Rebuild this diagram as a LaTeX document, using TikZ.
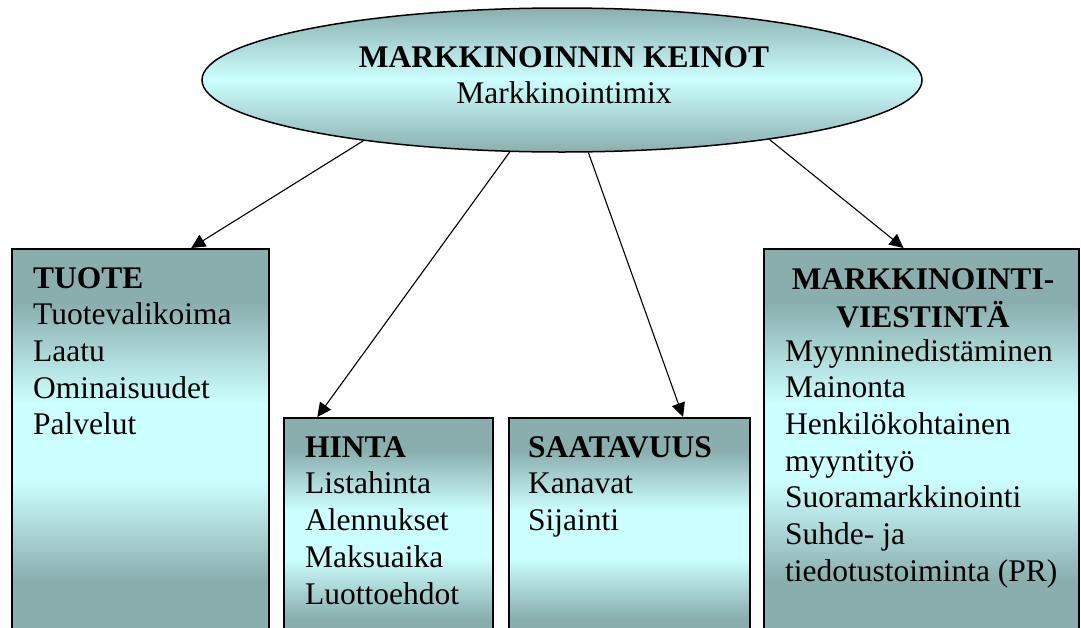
\documentclass[tikz,border=0pt]{standalone}
\usepackage{fontspec}
\setmainfont{Liberation Serif}
\usetikzlibrary{shapes.geometric,arrows.meta,calc}
\definecolor{dk}{RGB}{138,174,174}
\definecolor{lt}{RGB}{204,255,255}
\pgfdeclareverticalshading{boxshade}{100bp}{color(0bp)=(dk); color(25bp)=(dk); color(32bp)=(dk); color(45bp)=(lt); color(55bp)=(lt); color(68bp)=(dk); color(75bp)=(dk); color(100bp)=(dk)}
\begin{document}
\begin{tikzpicture}[x=1pt,y=-1pt,
  txt/.style={inner sep=0pt, anchor=north west, align=left, font=\fontsize{31.5}{36.7}\selectfont},
  ctxt/.style={inner sep=0pt, anchor=north, align=center, font=\fontsize{31.5}{36.7}\selectfont},
  box/.style={draw=black, line width=1.5pt, shading=boxshade, rectangle, anchor=north west, inner sep=0pt},
  conn/.style={-{Triangle[length=14pt,width=13.5pt]}, line width=1.1pt}]
\useasboundingbox (0,0) rectangle (1081,627);
\clip (0,0) rectangle (1081,627);
\node[ellipse, draw=black, line width=1.5pt, minimum width=720pt, minimum height=144pt, inner sep=0pt, top color=dk, bottom color=dk, middle color=lt] (top) at (562,80) {};
\node[ctxt] (toptext) at (564,41.3) {\strut\textbf{MARKKINOINNIN KEINOT}\\Markkinointimix};

\node[box, minimum width=257pt, minimum height=386pt] (tuote) at (11,248) {};
\node[box, minimum width=209pt, minimum height=233pt] (hinta) at (283,417) {};
\node[box, minimum width=241pt, minimum height=233pt] (saat) at (508,417) {};
\node[box, minimum width=315pt, minimum height=386pt] (mv) at (763,248) {};

\node[txt] (tuotetext) at (33,262.3) {\strut\textbf{TUOTE}\\Tuotevalikoima\\Laatu\\Ominaisuudet\\Palvelut};
\node[txt] (hintatext) at (305,431.3) {\strut\textbf{HINTA}\\Listahinta\\Alennukset\\Maksuaika\\Luottoehdot};
\node[txt] (saattext) at (528,431.3) {\strut\textbf{SAATAVUUS}\\Kanavat\\Sijainti};
\node[ctxt] (mvhead) at (923,263.3) {\strut\textbf{MARKKINOINTI-}\\\textbf{VIESTINTÄ}};
\node[txt] (mvtext) at (785,335.3) {\strut Myynninedistäminen\\Mainonta\\Henkilökohtainen\\myyntityö\\Suoramarkkinointi\\Suhde- ja\\tiedotustoiminta (PR)};

\draw[conn] (top.-163) -- ($(tuote.north west)!0.697!(tuote.north east)$);
\draw[conn] (top.-126.5) -- ($(hinta.north west)!0.163!(hinta.north east)$);
\draw[conn] (top.-70.4) -- ($(saat.north west)!0.722!(saat.north east)$);
\draw[conn] (top.-16.7) -- ($(mv.north west)!0.444!(mv.north east)$);
\end{tikzpicture}
\end{document}
